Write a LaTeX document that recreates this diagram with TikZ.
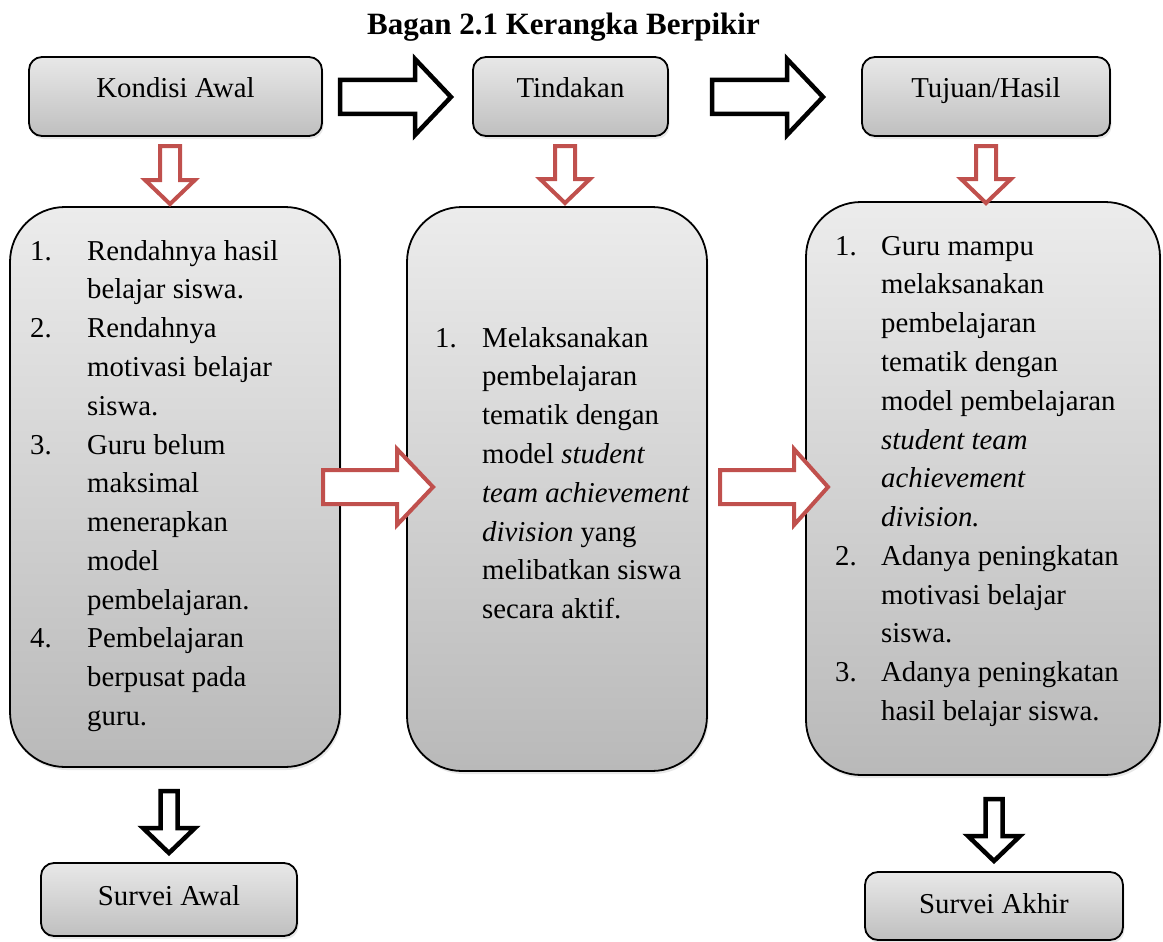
\documentclass[tikz,border=0pt]{standalone}
\usepackage{fontspec}
\setmainfont{Liberation Serif}
\usetikzlibrary{calc,shadows}
\definecolor{redarrow}{HTML}{C0504D}
\newcommand{\harrow}[6]{%
  \draw[#1] let \p1=(#2), \p2=(#3) in
    (\x1,\y1+#4pt) -- (\x2-#6pt,\y1+#4pt) -- (\x2-#6pt,\y1+#5pt) -- (\x2,\y2)
    -- (\x2-#6pt,\y1-#5pt) -- (\x2-#6pt,\y1-#4pt) -- (\x1,\y1-#4pt) -- cycle;}
\newcommand{\varrow}[6]{%
  \draw[#1] let \p1=(#2), \p2=(#3) in
    (\x1-#4pt,\y1) -- (\x1-#4pt,\y2+#6pt) -- (\x1-#5pt,\y2+#6pt) -- (\x2,\y2)
    -- (\x1+#5pt,\y2+#6pt) -- (\x1+#4pt,\y2+#6pt) -- (\x1+#4pt,\y1) -- cycle;}
\tikzset{
  smallbox/.style={draw=black, line width=1.8pt, rounded corners=13pt,
    top color=gray!18, bottom color=gray!50, inner xsep=0pt, inner ysep=0pt,
    drop shadow={opacity=0.18, shadow xshift=1.5pt, shadow yshift=-3pt},
    font=\fontsize{28.8}{34}\selectfont, anchor=base},
  bigbox/.style={draw=black, line width=1.8pt, rounded corners=55pt,
    top color=gray!15, bottom color=gray!55, inner sep=0pt,
    drop shadow={opacity=0.18, shadow xshift=1.5pt, shadow yshift=-3pt}},
  listtext/.style={inner sep=0pt, anchor=base west,
    font=\fontsize{28.8}{38.8}\selectfont},
  redblock/.style={draw=redarrow, line width=4pt, fill=white, line join=miter},
  blackblock/.style={draw=black, line width=4.5pt, fill=white, line join=miter},
}
\begin{document}
\begin{tikzpicture}[x=1pt,y=-1pt]
\useasboundingbox (0,0) rectangle (1163,942);

% title
\node[inner sep=0pt, anchor=base, font=\fontsize{31}{36}\selectfont\bfseries] (title) at (563.5,35) {Bagan 2.1 Kerangka Berpikir};

% top boxes
\node[smallbox, minimum width=293pt, text height=41pt, text depth=38pt] (kondisi) at (175.5,98) {Kondisi Awal};
\node[smallbox, minimum width=195pt, text height=41pt, text depth=38pt] (tindakan) at (570.5,98) {Tindakan};
\node[smallbox, minimum width=248pt, text height=41pt, text depth=38pt] (tujuan) at (986,98) {Tujuan/Hasil};

% big boxes
\node[bigbox, minimum width=330pt, minimum height=560pt] (left) at (175,487) {};
\node[bigbox, minimum width=300pt, minimum height=564pt] (mid) at (557,489) {};
\node[bigbox, minimum width=354pt, minimum height=573pt] (right) at (983,488.5) {};

% bottom boxes
\node[smallbox, minimum width=256pt, text height=42pt, text depth=31pt] (sawal) at (169,905) {Survei Awal};
\node[smallbox, minimum width=258pt, text height=41pt, text depth=27pt] (sakhir) at (994,913) {Survei Akhir};

% list texts
\node[listtext] (lefttext) at (30,260) {%
\begin{tabular}[t]{@{}p{57pt}@{}l@{}}
1. & Rendahnya hasil\\
   & belajar siswa.\\
2. & Rendahnya\\
   & motivasi belajar\\
   & siswa.\\
3. & Guru belum\\
   & maksimal\\
   & menerapkan\\
   & model\\
   & pembelajaran.\\
4. & Pembelajaran\\
   & berpusat pada\\
   & guru.
\end{tabular}};

\node[listtext] (midtext) at (435,347) {%
\begin{tabular}[t]{@{}p{47pt}@{}l@{}}
1. & Melaksanakan\\
   & pembelajaran\\
   & tematik dengan\\
   & model \textit{student}\\
   & \textit{team achievement}\\
   & \textit{division} yang\\
   & melibatkan siswa\\
   & secara aktif.
\end{tabular}};

\node[listtext] (righttext) at (835,255) {%
\begin{tabular}[t]{@{}p{46pt}@{}l@{}}
1. & Guru mampu\\
   & melaksanakan\\
   & pembelajaran\\
   & tematik dengan\\
   & model pembelajaran\\
   & \textit{student team}\\
   & \textit{achievement}\\
   & \textit{division.}\\
2. & Adanya peningkatan\\
   & motivasi belajar\\
   & siswa.\\
3. & Adanya peningkatan\\
   & hasil belajar siswa.
\end{tabular}};

% arrow end points
\coordinate (b1s) at (340,97);  \coordinate (b1e) at (451,97);
\coordinate (b2s) at (712,97);  \coordinate (b2e) at (823,97);
\coordinate (r1s) at (323,487); \coordinate (r1e) at (433,487);
\coordinate (r2s) at (720,487); \coordinate (r2e) at (828,487);
\coordinate (v1s) at (170,146); \coordinate (v1e) at (170,204);
\coordinate (v2s) at (565,146); \coordinate (v2e) at (565,203);
\coordinate (v3s) at (986,146); \coordinate (v3e) at (986,203);
\coordinate (d1s) at (169,791); \coordinate (d1e) at (169,853);
\coordinate (d2s) at (994,799); \coordinate (d2e) at (994,861);

% block arrows
\harrow{blackblock}{b1s}{b1e}{17}{38}{36}
\harrow{blackblock}{b2s}{b2e}{17}{38}{36}
\harrow{redblock}{r1s}{r1e}{17}{38}{36}
\harrow{redblock}{r2s}{r2e}{17}{38}{34}
\varrow{redblock}{v1s}{v1e}{10}{25}{24}
\varrow{redblock}{v2s}{v2e}{10}{25}{24}
\varrow{redblock}{v3s}{v3e}{10}{25}{24}
\varrow{blackblock}{d1s}{d1e}{8.5}{26}{25}
\varrow{blackblock}{d2s}{d2e}{8.5}{26}{25}
\end{tikzpicture}
\end{document}
